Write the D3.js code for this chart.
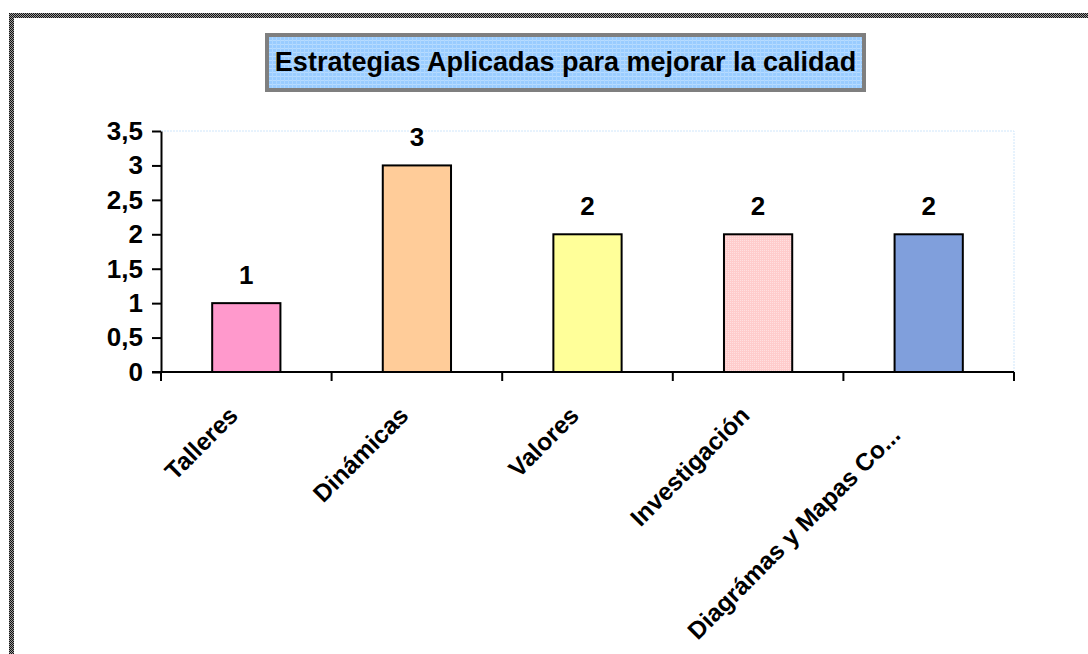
<!DOCTYPE html>
<html>
<head>
<meta charset="utf-8">
<script src="https://cdn.jsdelivr.net/npm/d3@7"></script>
<style>
  html, body { margin: 0; padding: 0; background: #ffffff; }
  svg { display: block; }
  text { font-family: Arial, "Liberation Sans", sans-serif; font-weight: bold; }
</style>
</head>
<body>
<script>
const categories = ["Talleres", "Dinámicas", "Valores", "Investigación", "Diagrámas y Mapas Co..."];
const values = [1, 3, 2, 2, 2];
const barColors = ["#ff99cc", "#ffcc99", "#ffff99", "#ffcccc", "#809fdc"];
const yTicks = [0, 0.5, 1, 1.5, 2, 2.5, 3, 3.5];
const yTickLabels = ["0", "0,5", "1", "1,5", "2", "2,5", "3", "3,5"];
const titleText = "Estrategias Aplicadas para mejorar la calidad";

const W = 1088, H = 654;
const svg = d3.select("body").append("svg").attr("width", W).attr("height", H);

// patterns
const defs = svg.append("defs");
const chk = defs.append("pattern").attr("id", "chk").attr("width", 2).attr("height", 2).attr("patternUnits", "userSpaceOnUse");
chk.append("rect").attr("width", 2).attr("height", 2).attr("fill", "#9a9a9a");
chk.append("rect").attr("width", 1).attr("height", 1).attr("fill", "#111111");
chk.append("rect").attr("x", 1).attr("y", 1).attr("width", 1).attr("height", 1).attr("fill", "#111111");

const grid = defs.append("pattern").attr("id", "bluegrid").attr("width", 4).attr("height", 4).attr("patternUnits", "userSpaceOnUse");
grid.append("rect").attr("width", 4).attr("height", 4).attr("fill", "#99ccff");
grid.append("rect").attr("width", 4).attr("height", 1).attr("fill", "#b8dcff");
grid.append("rect").attr("width", 1).attr("height", 4).attr("fill", "#add6ff");

const pinkdot = defs.append("pattern").attr("id", "pinkdot").attr("width", 2).attr("height", 2).attr("patternUnits", "userSpaceOnUse");
pinkdot.append("rect").attr("width", 2).attr("height", 2).attr("fill", "#ffcccc");
pinkdot.append("rect").attr("width", 1).attr("height", 1).attr("fill", "#ffe0e0");

// outer frame (extends past the viewport on right and bottom)
svg.append("rect").attr("x", 11.5).attr("y", 15.5).attr("width", W + 20).attr("height", H + 20)
  .attr("fill", "none").attr("stroke", "url(#chk)").attr("stroke-width", 5);

// title box
const tb = { x: 265, y: 33, w: 601, h: 59 };
svg.append("rect").attr("x", tb.x + 2).attr("y", tb.y + 2).attr("width", tb.w - 4).attr("height", tb.h - 4)
  .attr("fill", "url(#bluegrid)").attr("stroke", "#7f7f7f").attr("stroke-width", 4);
svg.append("text").attr("x", tb.x + tb.w / 2).attr("y", 71)
  .attr("text-anchor", "middle").attr("font-size", 27).attr("fill", "#000").text(titleText);

// plot area
const plot = { left: 161, top: 131, right: 1014, bottom: 372 };
const x = d3.scaleBand().domain(categories).range([plot.left, plot.right]).paddingInner(0).paddingOuter(0);
const y = d3.scaleLinear().domain([0, 3.5]).range([plot.bottom, plot.top]);

// plot area border (light blue dotted top/right)
svg.append("path")
  .attr("d", `M${plot.left},${plot.top}H${plot.right}V${plot.bottom}`)
  .attr("fill", "none").attr("stroke", "#cfe6fb").attr("stroke-width", 1).attr("stroke-dasharray", "2,1");

// bars
const bw = x.bandwidth() * 0.4;
svg.append("g").selectAll("rect").data(categories).join("rect")
  .attr("x", d => x(d) + (x.bandwidth() - bw) / 2)
  .attr("y", (d, i) => y(values[i]))
  .attr("width", bw)
  .attr("height", (d, i) => y(0) - y(values[i]))
  .attr("fill", (d, i) => i === 3 ? "url(#pinkdot)" : barColors[i])
  .attr("stroke", "#000").attr("stroke-width", 2);

// value labels
svg.append("g").selectAll("text").data(categories).join("text")
  .attr("x", d => x(d) + x.bandwidth() / 2)
  .attr("y", (d, i) => y(values[i]) - 19)
  .attr("text-anchor", "middle").attr("font-size", 26).attr("fill", "#000")
  .text((d, i) => values[i]);

// y axis
const yAxis = d3.axisLeft(y).tickValues(yTicks).tickFormat((d, i) => yTickLabels[i]).tickSize(9).tickSizeOuter(0).tickPadding(9);
const gy = svg.append("g").attr("transform", `translate(${plot.left},0)`).call(yAxis);
gy.select(".domain").attr("stroke", "#000").attr("stroke-width", 2);
gy.selectAll(".tick line").attr("stroke", "#000").attr("stroke-width", 2);
gy.selectAll(".tick text").attr("font-size", 26).attr("fill", "#000")
  .attr("font-family", "Arial, 'Liberation Sans', sans-serif").attr("font-weight", "bold");

// x axis line
svg.append("line").attr("x1", plot.left - 9).attr("x2", plot.right).attr("y1", plot.bottom).attr("y2", plot.bottom)
  .attr("stroke", "#000").attr("stroke-width", 2);
// x tick marks at band boundaries
const bounds = categories.map(d => x(d)).concat([plot.right]);
svg.append("g").selectAll("line").data(bounds).join("line")
  .attr("x1", d => d).attr("x2", d => d).attr("y1", plot.bottom).attr("y2", plot.bottom + 9)
  .attr("stroke", "#000").attr("stroke-width", 2);

// category labels rotated (last, truncated label is pushed back along its direction)
const labelBack = (d, i) => (i === categories.length - 1 ? 28 : 0);
svg.append("g").selectAll("text").data(categories).join("text")
  .attr("transform", (d, i) => {
    const s = labelBack(d, i) / Math.SQRT2;
    return `translate(${x(d) + x.bandwidth() / 2 - 7 - s},${plot.bottom + 45 + s}) rotate(-45)`;
  })
  .attr("text-anchor", "end").attr("font-size", 24.5).attr("fill", "#000")
  .text(d => d);
</script>
</body>
</html>
